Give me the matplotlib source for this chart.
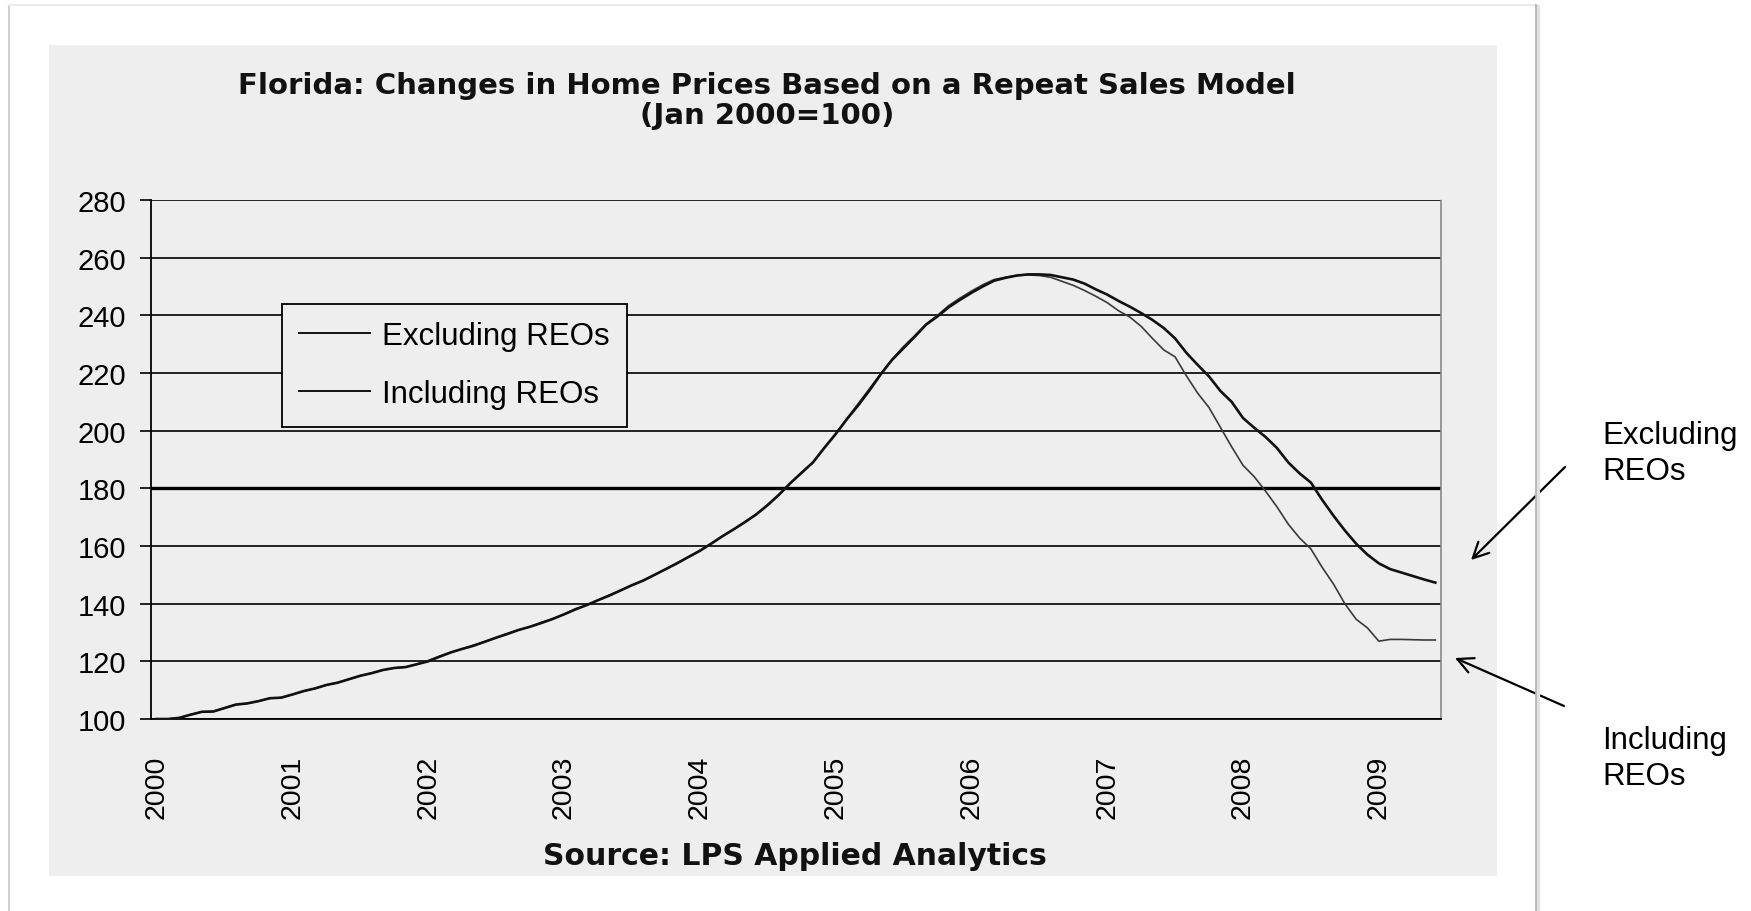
import matplotlib
matplotlib.use("Agg")
import matplotlib.pyplot as plt
from matplotlib.patches import Rectangle
from matplotlib.lines import Line2D
import numpy as np

plt.rcParams['font.family'] = ['Liberation Sans', 'DejaVu Sans']

# ---------------- data ----------------
title_line1 = "Florida: Changes in Home Prices Based on a Repeat Sales Model"
title_line2 = "(Jan 2000=100)"
source_text = "Source: LPS Applied Analytics"
series_names = ["Excluding REOs", "Including REOs"]
year_labels = ["2000", "2001", "2002", "2003", "2004", "2005", "2006", "2007", "2008", "2009"]
months_per_label = 12

excluding_reos = [
    100.0, 100.0, 100.4, 101.5, 102.5, 102.6, 103.8, 105.0, 105.4, 106.2,
    107.2, 107.4, 108.5, 109.7, 110.6, 111.8, 112.6, 113.8, 115.0, 115.9,
    117.0, 117.7, 118.0, 119.0, 120.0, 121.6, 123.1, 124.3, 125.4, 126.8,
    128.2, 129.5, 130.9, 132.0, 133.3, 134.7, 136.3, 138.0, 139.5, 141.2,
    142.8, 144.6, 146.4, 148.0, 150.0, 152.0, 154.0, 156.2, 158.3, 160.8,
    163.4, 165.8, 168.3, 171.0, 174.2, 177.8, 181.8, 185.4, 189.0, 194.0,
    198.8, 204.0, 208.8, 214.0, 219.6, 224.6, 228.6, 232.6, 236.8, 239.6,
    242.8, 245.4, 247.8, 250.0, 252.0, 253.0, 253.8, 254.2, 254.2, 254.0,
    253.2, 252.4, 251.0, 249.0, 247.2, 245.0, 243.0, 240.8, 238.4, 235.6,
    232.0, 227.0, 222.8, 218.8, 213.8, 210.0, 204.4, 201.0, 197.8, 194.0,
    189.0, 185.2, 182.0, 176.0, 170.5, 165.4, 160.8, 157.0, 154.0, 152.0,
    150.8, 149.6, 148.4, 147.3]

including_reos = [
    100.0, 100.0, 100.4, 101.5, 102.5, 102.6, 103.8, 105.0, 105.4, 106.2,
    107.2, 107.4, 108.5, 109.7, 110.6, 111.8, 112.6, 113.8, 115.0, 115.9,
    117.0, 117.7, 118.0, 119.0, 120.3, 121.8, 123.1, 124.3, 125.6, 126.8,
    128.2, 129.7, 130.9, 132.0, 133.5, 134.7, 136.3, 138.2, 139.5, 141.2,
    143.0, 144.6, 146.4, 148.2, 150.0, 152.0, 154.2, 156.2, 158.5, 160.8,
    163.4, 165.8, 168.5, 171.0, 174.4, 177.8, 181.8, 185.6, 189.0, 194.2,
    198.8, 204.2, 209.4, 214.6, 219.8, 224.8, 229.2, 233.0, 237.0, 240.0,
    243.4, 246.0, 248.4, 250.6, 252.4, 253.2, 253.8, 254.0, 253.8, 253.2,
    251.8, 250.4, 248.6, 246.6, 244.4, 241.6, 239.4, 236.2, 232.0, 228.0,
    225.6, 219.0, 213.0, 208.0, 201.2, 194.4, 188.0, 184.0, 179.0, 173.6,
    167.6, 162.8, 159.0, 152.6, 146.8, 140.0, 134.6, 131.6, 127.0, 127.6,
    127.6, 127.5, 127.4, 127.4]

y_ticks = [100, 120, 140, 160, 180, 200, 220, 240, 260, 280]

# ---------------- figure ----------------
W, H = 1751, 912
fig = plt.figure(figsize=(W / 100, H / 100), dpi=100)
fig.patch.set_facecolor('white')

def fx(px):
    return px / W

def fy(py):
    return 1 - py / H

# page border / shadow
fig.add_artist(Line2D([fx(9), fx(9)], [fy(6), 0], color='#d0d0d0', lw=1.5))
fig.add_artist(Line2D([fx(9), fx(1536)], [fy(6), fy(6)], color='#ececec', lw=1.5))
fig.add_artist(Line2D([fx(1538), fx(1538)], [fy(8), 0], color='#e2e2e2', lw=3.0))
fig.add_artist(Line2D([fx(1536), fx(1536)], [fy(6), 0], color='#b4b4b4', lw=1.3))

# gray chart panel
fig.add_artist(Rectangle((fx(49), fy(877)), fx(1497) - fx(49), fy(46) - fy(877),
                         facecolor='#eeeeee', edgecolor='none', zorder=0))

ax = fig.add_axes([fx(151), fy(720), fx(1441) - fx(151), fy(201) - fy(720)])
ax.set_facecolor('none')

x = np.arange(len(excluding_reos))
ax.plot(x, including_reos, color='#3a3a3a', lw=1.2, label=series_names[1], zorder=3)
ax.plot(x, excluding_reos, color='#111111', lw=1.9, label=series_names[0], zorder=4)

ax.set_xlim(-0.5, len(excluding_reos) - 0.5)
ax.set_ylim(100, 280)
ax.set_yticks(y_ticks)
ax.set_yticklabels([str(v) for v in y_ticks], fontsize=21)
ax.set_xticks(np.arange(len(year_labels)) * months_per_label)
ax.set_xticklabels(year_labels, rotation=90, fontsize=20.5)
ax.tick_params(axis='x', length=0, pad=26)
ax.tick_params(axis='y', length=8, width=1.2, direction='out', pad=10, color='black')

ax.yaxis.grid(True, color='black', lw=1.2)
ax.set_axisbelow(True)
gl = ax.get_ygridlines()
gl[y_ticks.index(180)].set_linewidth(2.4)

ax.spines['top'].set_visible(False)
ax.spines['left'].set_linewidth(1.3)
ax.spines['bottom'].set_linewidth(1.3)
ax.spines['right'].set_linestyle((0, (1, 1)))
ax.spines['right'].set_color('#888888')
ax.spines['right'].set_linewidth(1.2)

# legend
handles, labels = ax.get_legend_handles_labels()
order = [1, 0]
leg = ax.legend([handles[i] for i in order], [labels[i] for i in order],
                loc='upper left', bbox_to_anchor=(fx(282), fy(305)),
                bbox_transform=fig.transFigure, fontsize=22.5, frameon=True,
                fancybox=False, edgecolor='black', facecolor='#eeeeee', framealpha=1,
                handlelength=2.25, handletextpad=0.4, labelspacing=0.9,
                borderpad=0.55, borderaxespad=0)
leg.get_frame().set_linewidth(1.3)
for ln in leg.get_lines():
    ln.set_linewidth(1.4)
    ln.set_color('#111111')

# titles
bold_family = ['DejaVu Sans']
fig.text(fx(767), fy(86), title_line1, ha='center', va='center', fontsize=21,
         fontweight='bold', color='#111111', family=bold_family)
fig.text(fx(767), fy(116), title_line2, ha='center', va='center', fontsize=21,
         fontweight='bold', color='#111111', family=bold_family)
fig.text(fx(795), fy(857), source_text, ha='center', va='center', fontsize=21.5,
         fontweight='bold', color='#111111', family=bold_family)

# right-side annotations
fig.text(fx(1602), fy(454), "Excluding\nREOs", ha='left', va='center', fontsize=22.5,
         linespacing=1.28, color='black')
fig.text(fx(1602), fy(759), "Including\nREOs", ha='left', va='center', fontsize=22.5,
         linespacing=1.28, color='black')
arrow_kw = dict(arrowstyle='->', color='black', lw=1.6, mutation_scale=28,
                shrinkA=0, shrinkB=0)
ax.annotate('', xy=(fx(1471), fy(561)), xycoords='figure fraction',
            xytext=(fx(1565), fy(468)), textcoords='figure fraction', arrowprops=arrow_kw,
            annotation_clip=False)
ax.annotate('', xy=(fx(1455), fy(659)), xycoords='figure fraction',
            xytext=(fx(1564), fy(707)), textcoords='figure fraction', arrowprops=arrow_kw,
            annotation_clip=False)

fig.savefig('out.png', dpi=100)
